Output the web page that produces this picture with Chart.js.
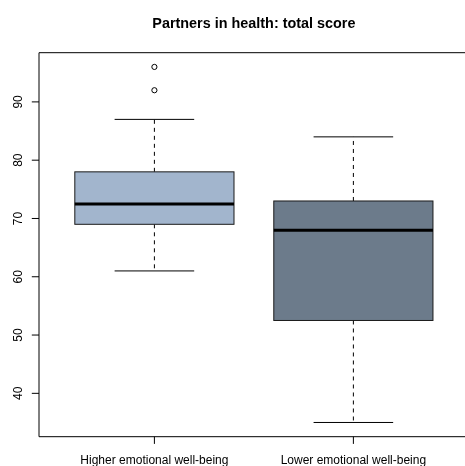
<!DOCTYPE html>
<html>
<head>
<meta charset="utf-8">
<title>Partners in health: total score</title>
<script src="https://cdn.jsdelivr.net/npm/chart.js@4.4.1/dist/chart.umd.min.js"></script>
<style>
  html, body { margin: 0; padding: 0; background: #ffffff; }
  canvas { display: block; }
</style>
</head>
<body>
<canvas id="chart" width="465" height="466"></canvas>
<script>
// Box-plot summaries per group
const categories   = ['Higher emotional well-being', 'Lower emotional well-being'];
const lowerWhisker = [61, 35];
const lowerQuartile = [69, 52.5];
const medians      = [72.5, 68];
const upperQuartile = [78, 73];
const upperWhisker = [87, 84];
const outlierValues = [[96, 92], []];
const yTicks       = [40, 50, 60, 70, 80, 90];
const boxFills     = ['#A2B5CD', '#6C7B8B'];

const chartTitle = 'Partners in health: total score';
const FONT = '"Liberation Sans", Arial, Helvetica, sans-serif';

const BOX_HALF = 0.4;    // half box width, in x units
const CAP_HALF = 0.2;    // half whisker-cap width, in x units

// Outliers as scatter points at each group's x position
const outlierPoints = [];
outlierValues.forEach((vals, i) => vals.forEach(v => outlierPoints.push({ x: i + 1, y: v })));

const boxplotPlugin = {
  id: 'boxplotPlugin',
  beforeDraw(chart) {
    const ctx = chart.ctx;
    ctx.save();
    ctx.fillStyle = '#ffffff';
    ctx.fillRect(0, 0, chart.width, chart.height);
    ctx.restore();
  },
  beforeDatasetsDraw(chart) {
    const ctx = chart.ctx;
    const xs = chart.scales.x, ys = chart.scales.y;
    ctx.save();
    categories.forEach((cat, i) => {
      const c = i + 1;
      const xl = xs.getPixelForValue(c - BOX_HALF);
      const xr = xs.getPixelForValue(c + BOX_HALF);
      const xc = xs.getPixelForValue(c);
      const cl = xs.getPixelForValue(c - CAP_HALF);
      const cr = xs.getPixelForValue(c + CAP_HALF);
      const yQ1 = ys.getPixelForValue(lowerQuartile[i]);
      const yQ3 = ys.getPixelForValue(upperQuartile[i]);
      const yMed = ys.getPixelForValue(medians[i]);
      const yLo = ys.getPixelForValue(lowerWhisker[i]);
      const yHi = ys.getPixelForValue(upperWhisker[i]);

      // whiskers (dashed)
      ctx.strokeStyle = '#000000';
      ctx.lineWidth = 1;
      ctx.setLineDash([4, 4]);
      ctx.beginPath();
      ctx.moveTo(xc, yQ3); ctx.lineTo(xc, yHi);
      ctx.moveTo(xc, yQ1); ctx.lineTo(xc, yLo);
      ctx.stroke();
      ctx.setLineDash([]);

      // whisker caps
      ctx.beginPath();
      ctx.moveTo(cl, yHi); ctx.lineTo(cr, yHi);
      ctx.moveTo(cl, yLo); ctx.lineTo(cr, yLo);
      ctx.stroke();

      // box
      ctx.fillStyle = boxFills[i];
      ctx.fillRect(xl, yQ3, xr - xl, yQ1 - yQ3);
      ctx.strokeStyle = '#1a1a1a';
      ctx.strokeRect(xl, yQ3, xr - xl, yQ1 - yQ3);

      // median
      ctx.strokeStyle = '#000000';
      ctx.lineWidth = 3;
      ctx.beginPath();
      ctx.moveTo(xl, yMed); ctx.lineTo(xr, yMed);
      ctx.stroke();
    });
    ctx.restore();
  },
  afterDraw(chart) {
    const ctx = chart.ctx;
    const xs = chart.scales.x, ys = chart.scales.y;
    const area = chart.chartArea;
    ctx.save();
    ctx.strokeStyle = '#000000';
    ctx.lineWidth = 1;

    // plot frame (its right side runs past the canvas edge)
    ctx.beginPath();
    ctx.moveTo(area.right + 10, area.top);
    ctx.lineTo(area.left, area.top);
    ctx.lineTo(area.left, area.bottom);
    ctx.lineTo(area.right + 10, area.bottom);
    ctx.stroke();

    // y axis ticks and rotated labels
    ctx.fillStyle = '#000000';
    ctx.font = '12px ' + FONT;
    ctx.textAlign = 'center';
    ctx.textBaseline = 'alphabetic';
    yTicks.forEach(v => {
      const y = ys.getPixelForValue(v);
      ctx.beginPath();
      ctx.moveTo(area.left - 7.2, y);
      ctx.lineTo(area.left, y);
      ctx.stroke();
      ctx.save();
      ctx.translate(area.left - 17, y);
      ctx.rotate(-Math.PI / 2);
      ctx.fillText(String(v), 0, 0);
      ctx.restore();
    });

    // x axis ticks and category labels
    categories.forEach((cat, i) => {
      const x = xs.getPixelForValue(i + 1);
      ctx.beginPath();
      ctx.moveTo(x, area.bottom);
      ctx.lineTo(x, area.bottom + 7.2);
      ctx.stroke();
      ctx.fillText(cat, x, 463.5);
    });

    // title, centred over the plot region
    ctx.font = 'bold 14.4px ' + FONT;
    const titleX = (area.left + xs.getPixelForValue(2.58)) / 2;
    ctx.fillText(chartTitle, titleX, 27.5);
    ctx.restore();
  }
};

new Chart(document.getElementById('chart'), {
  type: 'scatter',
  data: {
    datasets: [{
      label: 'Outliers',
      data: outlierPoints,
      pointStyle: 'circle',
      pointRadius: 2.6,
      pointBorderWidth: 1,
      pointBorderColor: '#000000',
      pointBackgroundColor: '#ffffff'
    }]
  },
  options: {
    responsive: false,
    devicePixelRatio: 1,
    animation: false,
    layout: { autoPadding: false, padding: { left: 39, top: 52.7, right: 0, bottom: 29.3 } },
    plugins: {
      legend: { display: false },
      title: { display: false },
      tooltip: { enabled: false }
    },
    scales: {
      x: { type: 'linear', display: false, min: 0.42, max: 2.561 },
      y: { type: 'linear', display: false, min: 32.56, max: 98.44 }
    }
  },
  plugins: [boxplotPlugin]
});
</script>
</body>
</html>
